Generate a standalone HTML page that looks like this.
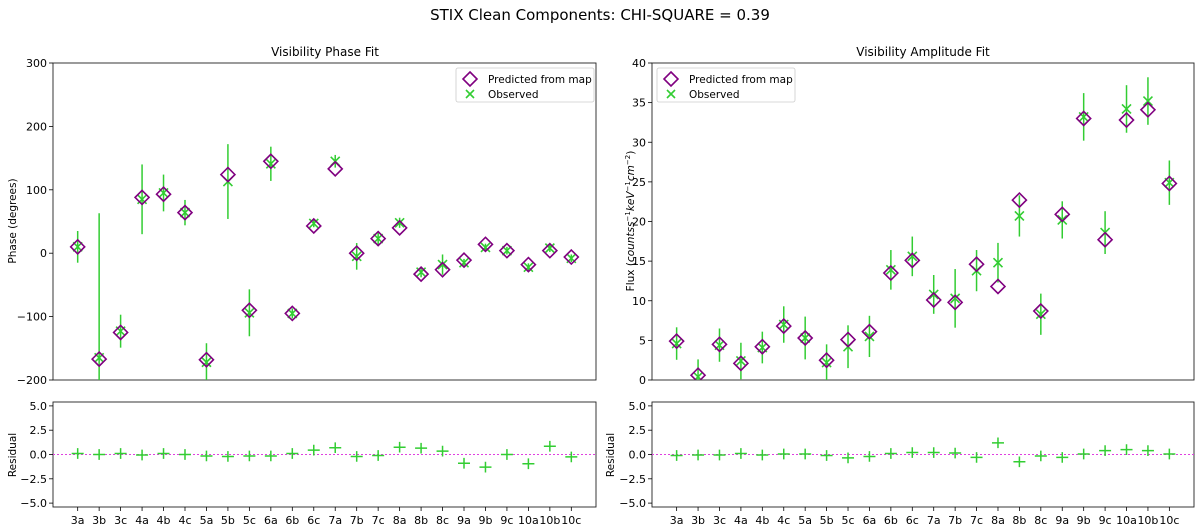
<!DOCTYPE html>
<html><head><meta charset="utf-8"><style>
html,body{margin:0;padding:0;background:#fff;}
svg{display:block;font-family:"DejaVu Sans","Liberation Sans",sans-serif;}
</style></head><body>
<svg id="c" width="1200" height="528" viewBox="0 0 1200 528">
<text x="600" y="20" text-anchor="middle" font-size="15">STIX Clean Components: CHI-SQUARE = 0.39</text>
<text x="325" y="56" text-anchor="middle" font-size="12">Visibility Phase Fit</text>
<text x="923" y="56" text-anchor="middle" font-size="12">Visibility Amplitude Fit</text>
<text transform="translate(16,221) rotate(-90)" text-anchor="middle" font-size="10.5">Phase (degrees)</text>
<text transform="translate(634,221) rotate(-90)" text-anchor="middle" font-size="10.5">Flux (<tspan font-style="italic">countss</tspan><tspan font-size="7" dy="-4">−1</tspan><tspan font-style="italic" dy="4">keV</tspan><tspan font-size="7" dy="-4">−1</tspan><tspan font-style="italic" dy="4">cm</tspan><tspan font-size="7" dy="-4">−2</tspan><tspan dy="4">)</tspan></text>
<text transform="translate(16,455) rotate(-90)" text-anchor="middle" font-size="10.5">Residual</text>
<text transform="translate(614,455) rotate(-90)" text-anchor="middle" font-size="10.5">Residual</text>
<g id="plots"></g>
</svg>
<script>
const categories=["3a","3b","3c","4a","4b","4c","5a","5b","5c","6a","6b","6c","7a","7b","7c","8a","8b","8c","9a","9b","9c","10a","10b","10c"];
const phasePred=[10,-167,-125,88,93,64,-168,124,-90,145,-95,43,133,0,23,40,-33,-26,-11,14,4,-18,4,-6];
const phaseObs=[10,-165,-123,85,95,64,-172,113,-94,141,-95,47,145,-5,23,48,-30,-18,-15,9,4,-22,8,-8];
const phaseErr=[25,228,26,55,29,20,30,59,37,27,8,6,10,21,10,8,8,16,6,6,6,6,6,6];
const ampPred=[4.9,0.6,4.5,2.1,4.2,6.8,5.3,2.5,5.1,6.1,13.5,15.1,10.1,9.8,14.6,11.8,22.7,8.7,20.9,33,17.7,32.8,34.1,24.8];
const ampObs=[4.6,0.4,4.4,2.4,4.1,7.0,5.3,2.2,4.2,5.5,13.9,15.6,10.8,10.3,13.8,14.8,20.7,8.3,20.2,33.2,18.6,34.2,35.2,24.9];
const ampErr=[2.05,2.2,2.1,2.3,2.0,2.3,2.7,2.3,2.7,2.6,2.5,2.5,2.45,3.7,2.6,2.5,2.6,2.6,2.35,3.0,2.7,3.0,3.0,2.8];
const phaseRes=[0.1,0,0.1,-0.05,0.1,0,-0.15,-0.2,-0.15,-0.15,0.1,0.45,0.7,-0.2,-0.1,0.75,0.65,0.35,-0.9,-1.3,0,-0.95,0.85,-0.25];
const ampRes=[-0.1,-0.05,-0.05,0.1,-0.05,0.05,0.05,-0.1,-0.35,-0.2,0.1,0.2,0.2,0.15,-0.3,1.2,-0.75,-0.15,-0.3,0.05,0.4,0.5,0.4,0.05];
const phaseTicks=[300,200,100,0,-100,-200];
const ampTicks=[0,5,10,15,20,25,30,35,40];
const resTicks=[5.0,2.5,0.0,-2.5,-5.0];

const NS="http://www.w3.org/2000/svg";
const root=document.getElementById('plots');
function el(tag,attrs,parent){const e=document.createElementNS(NS,tag);for(const k in attrs)e.setAttribute(k,attrs[k]);(parent||root).appendChild(e);return e;}
const PURPLE="#800080",GREEN="#32cd32";

function xScale(L,R){const n=categories.length;const pad=1.15;const span=(n-1)+2*pad;return i=>L+(i+pad)/span*(R-L);}
function yScale(T,B,lo,hi){return v=>B-(v-lo)/(hi-lo)*(B-T);}

function axesBox(L,T,R,B,name){
  const r=el('rect',{x:L,y:T,width:R-L,height:B-T,fill:'none',stroke:'#222','stroke-width':0.9});
  
  
}
function yTicks(L,ys,ticks,fmt,name){
  ticks.forEach(t=>{
    const y=ys(t);
    el('line',{x1:L-4,x2:L,y1:y,y2:y,stroke:'#000','stroke-width':0.8});
    const tx=el('text',{x:L-6,y:y+4,'text-anchor':'end','font-size':11});
    tx.textContent=fmt(t);
    
    
  });
}
function fmtInt(t){return (t<0?'−':'')+Math.abs(t);}
function fmtRes(t){return (t<0?'−':'')+Math.abs(t).toFixed(1);}

function topPanel(L,T,R,B,lo,hi,ticks,pred,obs,err,legendX,prefix){
  const xs=xScale(L,R),ys=yScale(T,B,lo,hi);
  axesBox(L,T,R,B,prefix+'-axes');
  yTicks(L,ys,ticks,fmtInt,prefix+'-y-tick');
  const clip=el('clipPath',{id:prefix+'clip'});el('rect',{x:L,y:T,width:R-L,height:B-T},clip);
  const g=el('g',{'clip-path':'url(#'+prefix+'clip)'});
  categories.forEach((c,i)=>{
    const x=xs(i);
    const eb=el('line',{x1:x,x2:x,y1:ys(obs[i]+err[i]),y2:ys(obs[i]-err[i]),stroke:GREEN,'stroke-width':1.5},g);
    
    
    const yo=ys(obs[i]),s=4.5;
    const xm=el('path',{d:`M${x-s},${yo-s}L${x+s},${yo+s}M${x-s},${yo+s}L${x+s},${yo-s}`,stroke:GREEN,'stroke-width':1.6,fill:'none'},g);
    
    
    const yp=ys(pred[i]),d=7;
    const dm=el('path',{d:`M${x},${yp-d}L${x+d},${yp}L${x},${yp+d}L${x-d},${yp}Z`,stroke:PURPLE,'stroke-width':1.6,fill:'none'},g);
    
    
  });
  const lg=el('g',{});
  
  
  el('rect',{x:legendX,y:68,width:138,height:34,rx:2,fill:'#fff',stroke:'#ccc','stroke-width':0.8},lg);
  const dx=legendX+14;
  el('path',{d:`M${dx},72L${dx+7},79L${dx},86L${dx-7},79Z`,stroke:PURPLE,'stroke-width':1.6,fill:'none'},lg);
  el('path',{d:`M${dx-4},${90}L${dx+4},${98}M${dx-4},${98}L${dx+4},${90}`,stroke:GREEN,'stroke-width':1.6,fill:'none'},lg);
  const t1=el('text',{x:legendX+32,y:83,'font-size':10.5},lg);t1.textContent='Predicted from map';
  const t2=el('text',{x:legendX+32,y:98,'font-size':10.5},lg);t2.textContent='Observed';
}

function resPanel(L,T,R,B,res,prefix){
  const xs=xScale(L,R),ys=yScale(T,B,-5.4,5.4);
  axesBox(L,T,R,B,prefix+'-axes');
  yTicks(L,ys,resTicks,fmtRes,prefix+'-y-tick');
  const z=el('line',{x1:L,x2:R,y1:ys(0),y2:ys(0),stroke:'#e040e0','stroke-width':1,'stroke-dasharray':'2,2'});
  
  
  categories.forEach((c,i)=>{
    const x=xs(i),y=ys(res[i]);
    const p=el('path',{d:`M${x},${ys(res[i]+0.55)}L${x},${ys(res[i]-0.55)}M${x-6},${y}L${x+6},${y}`,stroke:GREEN,'stroke-width':1.5,fill:'none'});
    
    
    el('line',{x1:x,x2:x,y1:B,y2:B+4,stroke:'#000','stroke-width':0.8});
    const t=el('text',{x:x,y:B+17,'text-anchor':'middle','font-size':11});
    t.textContent=c;
    
    
  });
}

topPanel(53,63,596,380,-200,300,phaseTicks,phasePred,phaseObs,phaseErr,456,'phase');
topPanel(652,63,1194,380,0,40,ampTicks,ampPred,ampObs,ampErr,657,'amplitude');
resPanel(53,402,596,507,phaseRes,'phase-residual');
resPanel(652,402,1194,507,ampRes,'amplitude-residual');
</script>
</body></html>
